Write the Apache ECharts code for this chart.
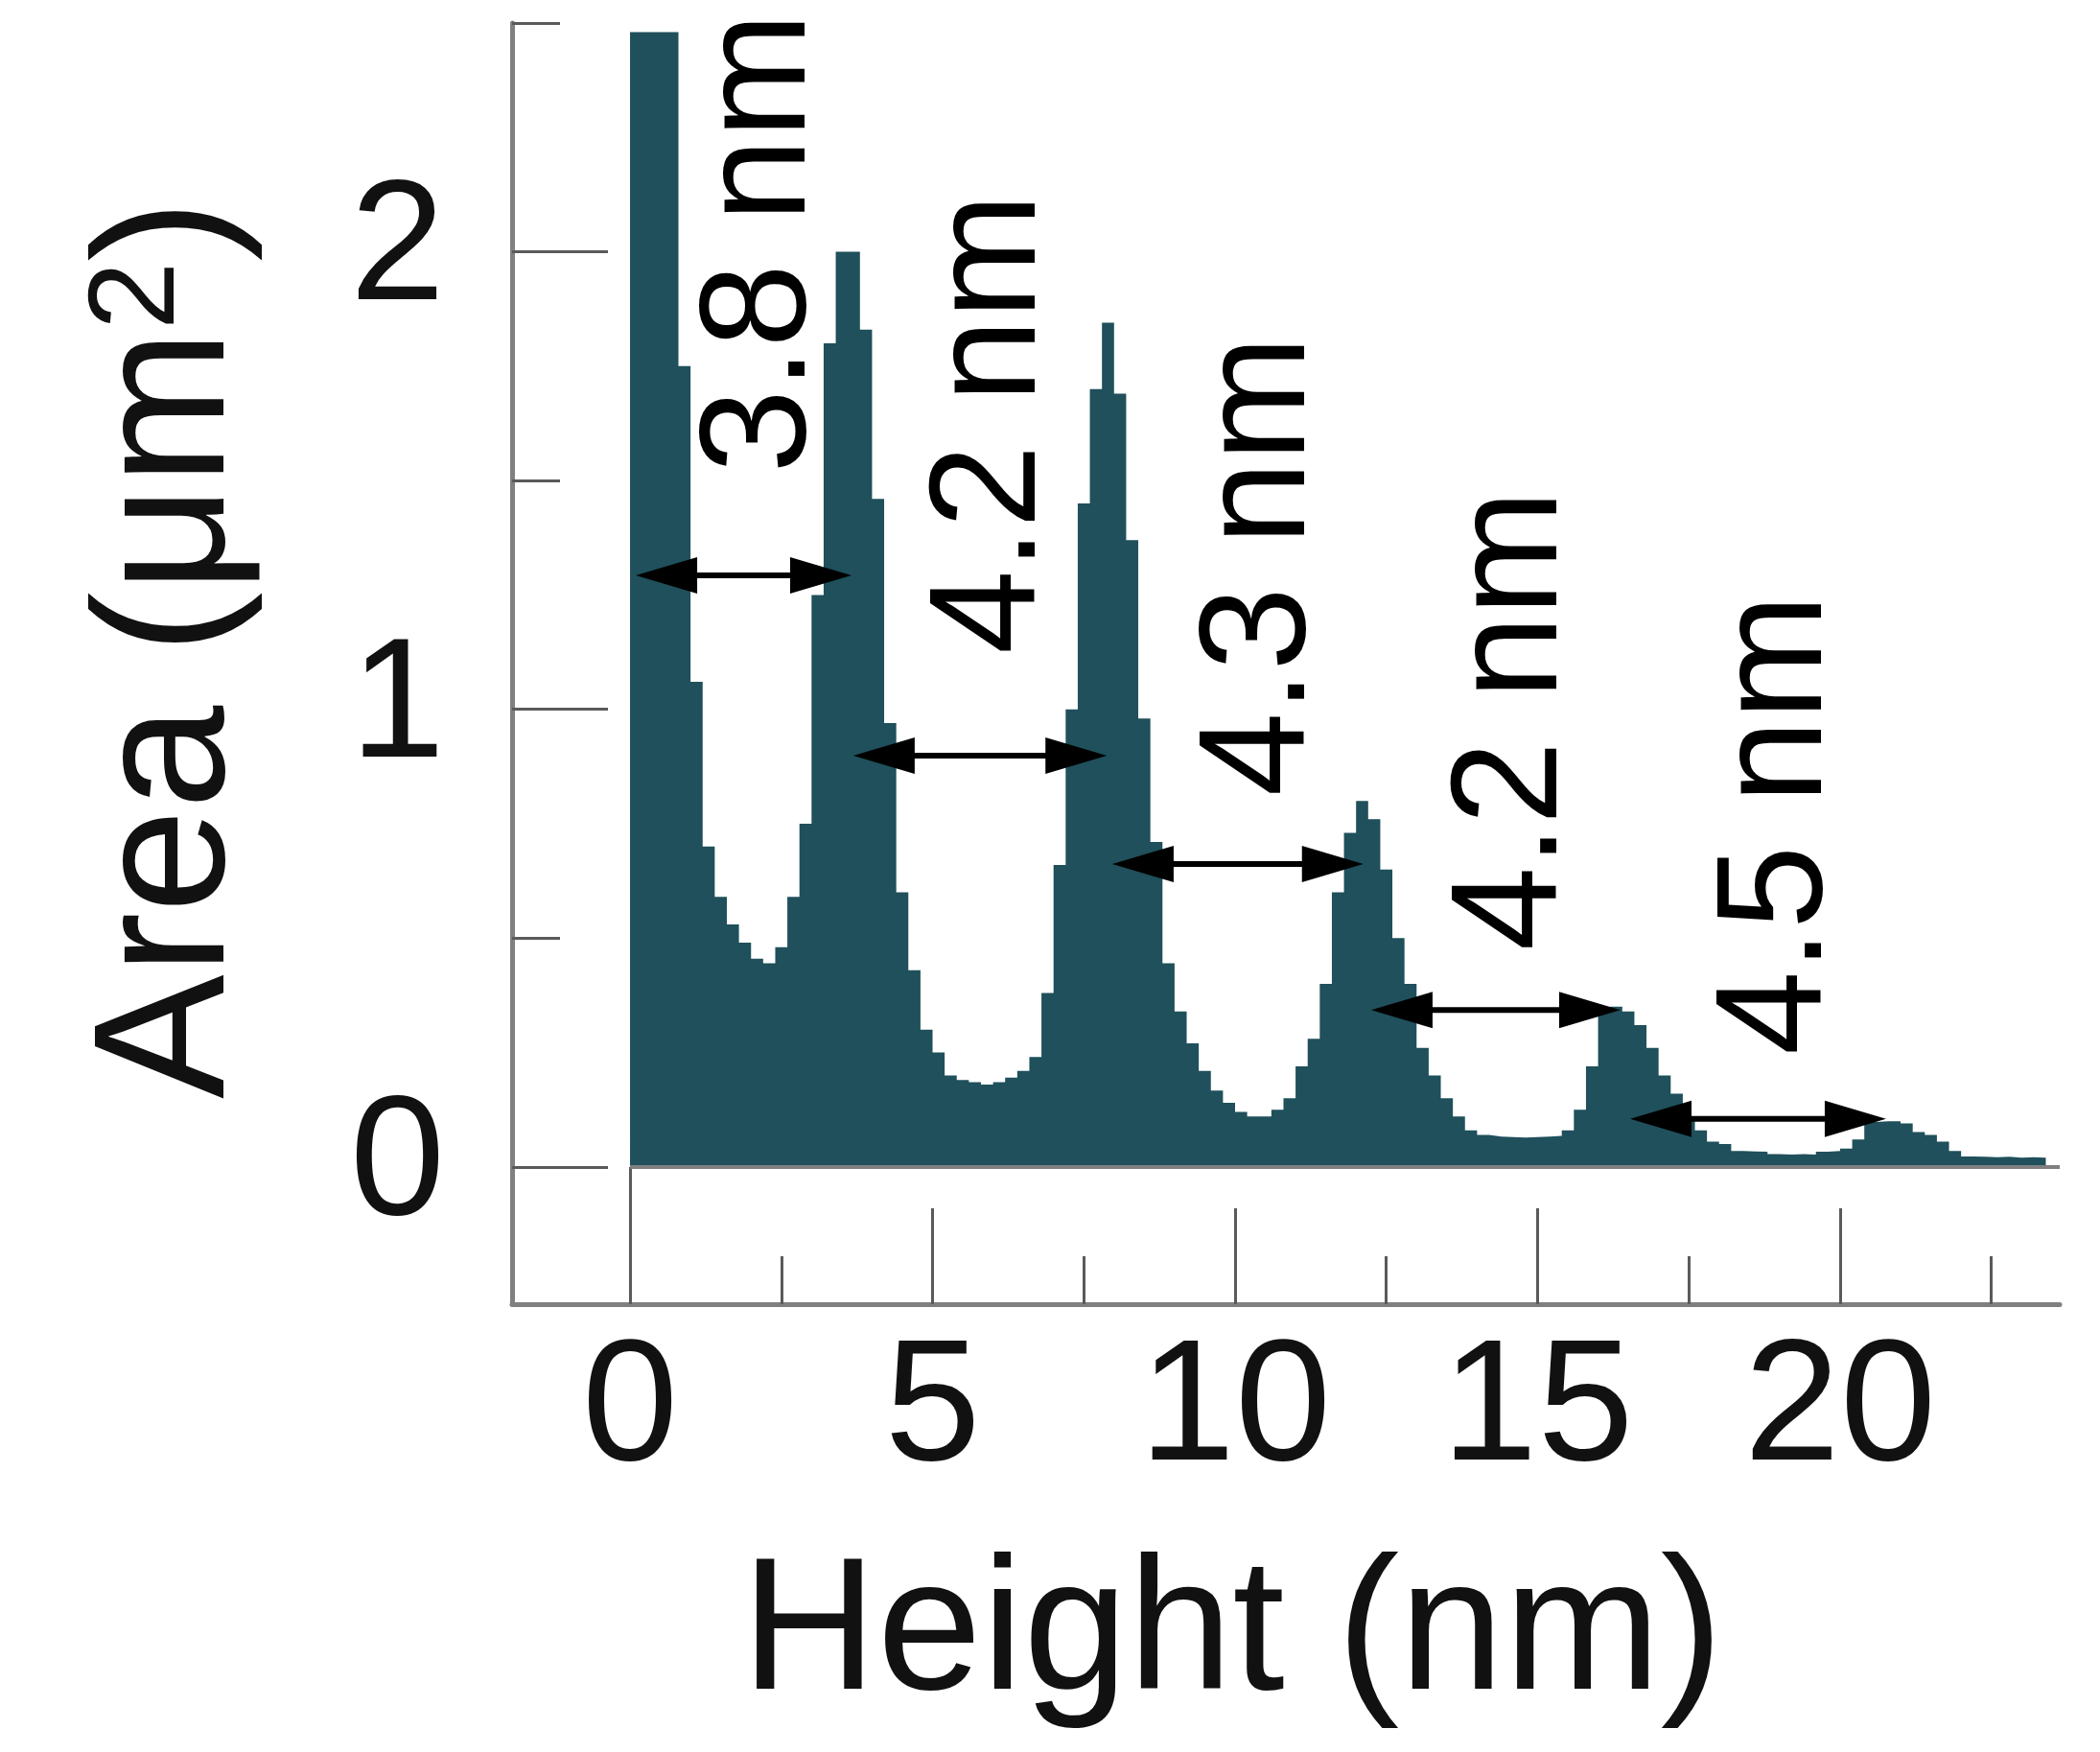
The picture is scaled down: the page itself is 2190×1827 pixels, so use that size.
<!DOCTYPE html>
<html>
<head>
<meta charset="utf-8">
<script src="https://cdn.jsdelivr.net/npm/echarts@6/dist/echarts.min.js"></script>
<style>
  html, body { margin: 0; padding: 0; background: #fff; }
  #chart { width: 2190px; height: 1827px; }
</style>
</head>
<body>
<div id="chart"></div>
<script>
// histogram: bin width in nm, area per bin in µm²
const binWidth = 0.2
const areaValues = [
  2.48, 2.48, 2.48, 2.48, 1.75, 1.06, 0.70, 0.59, 0.53, 0.49,
  0.455, 0.445, 0.48, 0.59, 0.75, 1.25, 1.80, 2.00, 2.00, 1.83,
  1.46, 0.97, 0.60, 0.43, 0.30, 0.25, 0.20, 0.19, 0.185, 0.18,
  0.185, 0.195, 0.21, 0.24, 0.38, 0.66, 1.00, 1.45, 1.70, 1.845,
  1.69, 1.37, 0.98, 0.71, 0.445, 0.34, 0.27, 0.21, 0.167, 0.14,
  0.12, 0.11, 0.11, 0.125, 0.15, 0.22, 0.28, 0.40, 0.60, 0.73,
  0.80, 0.76, 0.65, 0.50, 0.40, 0.26, 0.20, 0.15, 0.11, 0.08,
  0.07, 0.066, 0.065, 0.064, 0.065, 0.066, 0.068, 0.08, 0.125, 0.22,
  0.34, 0.35, 0.34, 0.31, 0.26, 0.20, 0.16, 0.11, 0.08, 0.055,
  0.05, 0.035, 0.034, 0.033, 0.028, 0.027, 0.028, 0.027, 0.033, 0.035,
  0.04, 0.06, 0.098, 0.10, 0.10, 0.095, 0.076, 0.07, 0.055, 0.035,
  0.023, 0.022, 0.021, 0.022, 0.02, 0.021, 0.02
]

// axis ticks
const xLabelTicks = [0, 5, 10, 15, 20]
const xMajorTicks = [5, 10, 15, 20]
const xMinorTicks = [2.5, 7.5, 12.5, 17.5, 22.5]
const xZeroTick = [0]
const yMajorTicks = [0, 1, 2]
const yMinorTicks = [0.5, 1.5, 2.5]

// peak spacing annotations
const spacingLabels = ['3.8 nm', '4.2 nm', '4.3 nm', '4.2 nm', '4.5 nm']
const arrowLevel = [1.293, 0.899, 0.662, 0.343, 0.105]
const arrowFrom = [0.095, 3.69, 7.97, 12.25, 16.53]
const arrowTo = [3.66, 7.88, 12.12, 16.37, 20.76]
const labelX = [2.19, 6.0, 10.45, 14.62, 19.0]
const labelBottom = [1.516, 1.121, 0.81, 0.473, 0.245]

const FONT = '"Liberation Sans", Arial, Helvetica, sans-serif'
const TEAL = '#1f505b'
const AXIS_GRAY = '#808080'
const TICK_GRAY = '#5a5a5a'
const X_MIN = -1.95
const X_MAX = 23.63

// step points: left edge of every bin, plus the closing right edge
const histData = areaValues.map((v, i) => [+(i * binWidth).toFixed(2), v])
histData.push([+(areaValues.length * binWidth).toFixed(2), areaValues[areaValues.length - 1]])

const arrowData = arrowLevel.map((y, i) => [arrowFrom[i], arrowTo[i], y])

const tickStyle = { color: TICK_GRAY, width: 3 }
const hiddenAxisBits = {
  axisLine: { show: false, onZero: false },
  axisLabel: { show: false },
  splitLine: { show: false },
}

// double-headed arrow between two peaks
const HEAD_LEN = 64
const HEAD_HALF = 19
function renderArrow(params, api) {
  const y = api.value(2)
  const a = api.coord([api.value(0), y])
  const b = api.coord([api.value(1), y])
  return {
    type: 'group',
    children: [
      {
        type: 'line',
        shape: { x1: a[0] + HEAD_LEN / 2, y1: a[1], x2: b[0] - HEAD_LEN / 2, y2: b[1] },
        style: { stroke: '#000', lineWidth: 6 },
      },
      {
        type: 'polygon',
        shape: { points: [[a[0], a[1]], [a[0] + HEAD_LEN, a[1] - HEAD_HALF], [a[0] + HEAD_LEN, a[1] + HEAD_HALF]] },
        style: { fill: '#000' },
      },
      {
        type: 'polygon',
        shape: { points: [[b[0], b[1]], [b[0] - HEAD_LEN, b[1] - HEAD_HALF], [b[0] - HEAD_LEN, b[1] + HEAD_HALF]] },
        style: { fill: '#000' },
      },
    ],
  }
}

const options = {
  animation: false,
  backgroundColor: '#fff',
  grid: {
    left: 534,
    right: 42,
    top: 24,
    bottom: 467,
    containLabel: false,
    outerBoundsMode: 'none',
  },
  xAxis: [
    {
      type: 'value',
      position: 'bottom',
      min: X_MIN,
      max: X_MAX,
      axisLine: { onZero: false, lineStyle: { color: AXIS_GRAY, width: 5 } },
      axisTick: { inside: true, length: 100, customValues: xMajorTicks, lineStyle: tickStyle },
      axisLabel: { customValues: xLabelTicks, fontSize: 180, color: '#111', margin: 22, fontFamily: FONT },
      splitLine: { show: false },
      name: 'Height (nm)',
      nameLocation: 'middle',
      nameGap: 249,
      nameTextStyle: { fontSize: 196, color: '#111', fontFamily: FONT, padding: [0, 112, 0, 0] },
    },
    {
      type: 'value',
      position: 'bottom',
      min: X_MIN,
      max: X_MAX,
      axisTick: { inside: true, length: 50, customValues: xMinorTicks, lineStyle: tickStyle },
      ...hiddenAxisBits,
    },
    {
      type: 'value',
      position: 'bottom',
      min: X_MIN,
      max: X_MAX,
      axisTick: { inside: true, length: 143, customValues: xZeroTick, lineStyle: tickStyle },
      ...hiddenAxisBits,
    },
  ],
  yAxis: [
    {
      type: 'value',
      position: 'left',
      min: -0.3,
      max: 2.5,
      axisLine: { onZero: false, lineStyle: { color: AXIS_GRAY, width: 5 } },
      axisTick: { inside: true, length: 100, customValues: yMajorTicks, lineStyle: tickStyle },
      axisLabel: { customValues: yMajorTicks, fontSize: 178, color: '#111', margin: 70, fontFamily: FONT },
      splitLine: { show: false },
      name: 'Area (μm{sup|2})',
      nameLocation: 'middle',
      nameRotate: 90,
      nameGap: 258,
      nameTextStyle: {
        fontSize: 194,
        color: '#111',
        fontFamily: FONT,
        padding: [0, 0, 0, 30],
        rich: {
          sup: { fontSize: 128, color: '#111', fontFamily: FONT, verticalAlign: 'top' },
        },
      },
    },
    {
      type: 'value',
      position: 'left',
      min: -0.3,
      max: 2.5,
      axisTick: { inside: true, length: 50, customValues: yMinorTicks, lineStyle: tickStyle },
      ...hiddenAxisBits,
    },
  ],
  series: [
    {
      name: 'Area',
      type: 'line',
      step: 'end',
      symbol: 'none',
      data: histData,
      lineStyle: { width: 0, color: TEAL },
      itemStyle: { color: TEAL },
      areaStyle: { color: TEAL, opacity: 1 },
      // gray baseline at zero
      markLine: {
        silent: true,
        animation: false,
        symbol: ['none', 'none'],
        label: { show: false },
        lineStyle: { color: AXIS_GRAY, width: 4, type: 'solid' },
        emphasis: { disabled: true },
        data: [[{ coord: [0, 0] }, { coord: [X_MAX, 0] }]],
      },
      // rotated spacing labels
      markPoint: {
        silent: true,
        animation: false,
        symbol: 'circle',
        symbolSize: 1,
        itemStyle: { color: 'rgba(0,0,0,0)' },
        label: {
          show: true,
          position: 'inside',
          rotate: 90,
          align: 'left',
          verticalAlign: 'middle',
          fontSize: 157,
          color: '#000',
          fontFamily: FONT,
          formatter: (p) => p.name,
        },
        data: spacingLabels.map((t, i) => ({ name: t, coord: [labelX[i], labelBottom[i]] })),
      },
    },
    {
      name: 'spacing',
      type: 'custom',
      z: 5,
      silent: true,
      clip: false,
      renderItem: renderArrow,
      encode: { x: [0, 1], y: 2 },
      data: arrowData,
    },
  ],
}

const chart = echarts.init(document.getElementById('chart'))
chart.setOption(options)
</script>
</body>
</html>
